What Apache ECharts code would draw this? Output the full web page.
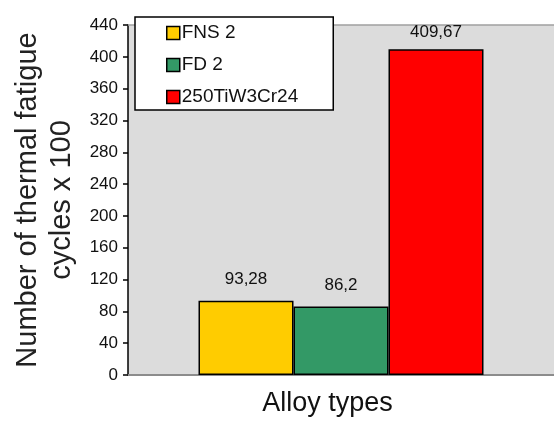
<!DOCTYPE html>
<html>
<head>
<meta charset="utf-8">
<script src="https://cdn.jsdelivr.net/npm/echarts@6/dist/echarts.min.js"></script>
<style>
html,body{margin:0;padding:0;background:#fff;}
#chart{width:554px;height:422px;}
</style>
</head>
<body>
<div id="chart"></div>
<script>
var categories = ['Alloy types'];
var seriesNames = ['FNS 2', 'FD 2', '250TiW3Cr24'];
var seriesValues = [93.28, 86.2, 409.67];
var seriesColors = ['#FFCC00', '#339966', '#FF0000'];
var yTicks = [0, 40, 80, 120, 160, 200, 240, 280, 320, 360, 400, 440];

var FONT = '"Liberation Sans", Arial, sans-serif';

var chart = echarts.init(document.getElementById('chart'), null, {renderer: 'canvas'});

var series = seriesNames.map(function (name, i) {
  return {
    name: name,
    type: 'bar',
    xAxisIndex: 0,
    barWidth: 95,
    barGap: '0%',
    data: [seriesValues[i]],
    itemStyle: {color: seriesColors[i], borderColor: '#000', borderWidth: 1.5},
    label: {
      show: true,
      position: 'top',
      distance: i === 2 ? 8 : 13,
      fontFamily: FONT,
      fontSize: 17,
      color: '#111',
      formatter: function (p) { return String(p.value).replace('.', ','); }
    },
    emphasis: {disabled: true}
  };
});

chart.setOption({
  animation: false,
  backgroundColor: '#fff',
  grid: {
    left: 128, right: -5, top: 25, bottom: 47,
    show: true, backgroundColor: '#DCDCDC', borderWidth: 0
  },
  legend: {
    orient: 'vertical',
    left: 135, top: 17,
    data: seriesNames,
    backgroundColor: '#fff',
    borderColor: '#000',
    borderWidth: 1.5,
    borderRadius: 0,
    padding: [6, 35, 3, 31],
    itemGap: 12,
    itemWidth: 13, itemHeight: 13,
    icon: 'rect',
    itemStyle: {borderColor: '#000', borderWidth: 1.5},
    textStyle: {fontFamily: FONT, fontSize: 19, color: '#111', lineHeight: 20, padding: [0, 0, 0, -3]},
    selectedMode: false
  },
  xAxis: [{
    type: 'category',
    data: categories,
    position: 'bottom',
    name: 'Alloy types',
    nameLocation: 'middle',
    nameGap: 15,
    nameTextStyle: {fontFamily: FONT, fontSize: 27, color: '#111', padding: [0, 27, 0, 0]},
    axisLine: {show: true, lineStyle: {color: '#8C8C8C', width: 2}},
    axisTick: {show: false},
    axisLabel: {show: false}
  }, {
    type: 'category',
    data: categories,
    position: 'top',
    axisLine: {show: true, lineStyle: {color: '#A0A0A0', width: 1.5}},
    axisTick: {show: false},
    axisLabel: {show: false}
  }],
  yAxis: {
    type: 'value',
    min: yTicks[0],
    max: yTicks[yTicks.length - 1],
    interval: yTicks[1] - yTicks[0],
    name: 'Number of thermal fatigue\ncycles x 100',
    nameLocation: 'middle',
    nameGap: 46,
    nameTextStyle: {fontFamily: FONT, fontSize: 29, color: '#222', lineHeight: 34},
    axisLine: {show: true, lineStyle: {color: '#000', width: 1.5}},
    axisTick: {show: true, length: 5, lineStyle: {color: '#000', width: 1.5}},
    axisLabel: {fontFamily: FONT, fontSize: 17, color: '#111', margin: 10},
    splitLine: {show: false}
  },
  series: series
});
</script>
</body>
</html>
